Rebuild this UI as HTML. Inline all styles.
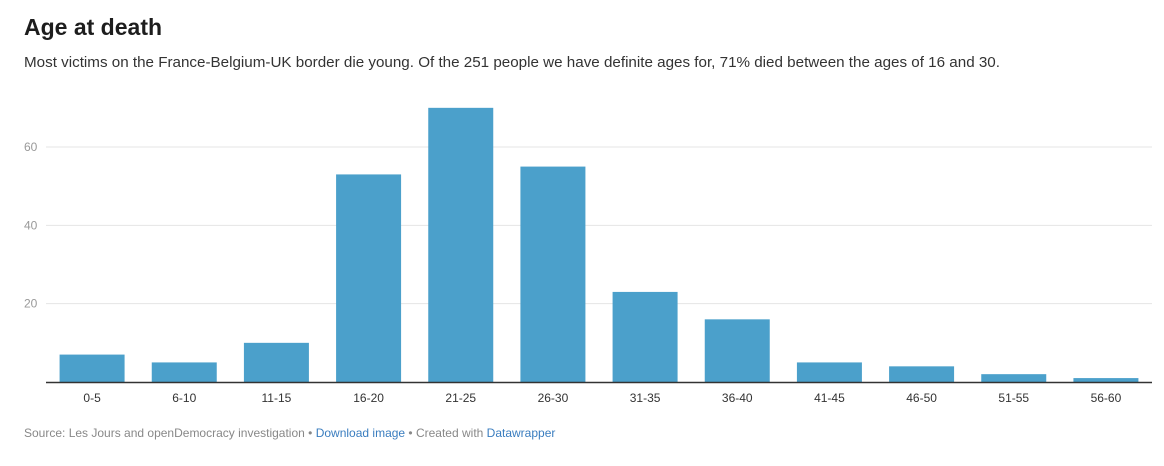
<!DOCTYPE html>
<html><head><meta charset="utf-8"><style>
body{margin:0;width:1164px;height:466px;background:#fff;font-family:"Liberation Sans",sans-serif;overflow:hidden;position:relative}
h1{position:absolute;left:24px;top:14px;margin:0;font-size:23px;font-weight:bold;color:#1d1d1d}
.sub{position:absolute;left:24px;top:54px;font-size:15.2px;color:#333}
.foot{position:absolute;left:24px;top:426px;font-size:12px;color:#888}
.foot a{color:#3a7dbf;text-decoration:none}
svg{position:absolute;left:0;top:0}
</style></head><body>
<h1>Age at death</h1>
<div class="sub">Most victims on the France-Belgium-UK border die young. Of the 251 people we have definite ages for, 71% died between the ages of 16 and 30.</div>
<svg id="chart" width="1164" height="466"></svg>
<div class="foot">Source: Les Jours and openDemocracy investigation • <a>Download image</a> • Created with <a>Datawrapper</a></div>
<script>
const categories=["0-5","6-10","11-15","16-20","21-25","26-30","31-35","36-40","41-45","46-50","51-55","56-60"];
const values=[7,5,10,53,70,55,23,16,5,4,2,1];
const yTicks=[20,40,60];
const svg=document.getElementById('chart');
const NS='http://www.w3.org/2000/svg';
const x0=46,x1=1152,y0=382,yTop=147,vTop=60;
const band=(x1-x0)/categories.length;
function y(v){return y0-(y0-yTop)*v/vTop;}
function xc(i){return x0+band*(i+0.5);}
function mk(t,a){const e=document.createElementNS(NS,t);for(const k in a)e.setAttribute(k,a[k]);svg.appendChild(e);return e;}
yTicks.forEach(t=>{
 const l=mk('line',{x1:x0,x2:x1,y1:y(t),y2:y(t),stroke:'#e5e5e5','stroke-width':1});
 
 
 const tx=mk('text',{x:24,y:y(t)+4,'font-size':12,fill:'#999','font-family':'Liberation Sans, sans-serif'});
 tx.textContent=t;
 
 
});
categories.forEach((c,i)=>{
 const bw=65;
 const r=mk('rect',{x:xc(i)-bw/2,y:y(values[i]),width:bw,height:y0-y(values[i]),fill:'#4ba0cb'});
 
 
 const t=mk('text',{x:xc(i),y:y0+20,'font-size':12,fill:'#333','text-anchor':'middle','font-family':'Liberation Sans, sans-serif'});
 t.textContent=c;
 
 
});
const ax=mk('line',{x1:x0,x2:x1,y1:y0+0.5,y2:y0+0.5,stroke:'#333','stroke-width':1.5});


</script>
</body></html>
